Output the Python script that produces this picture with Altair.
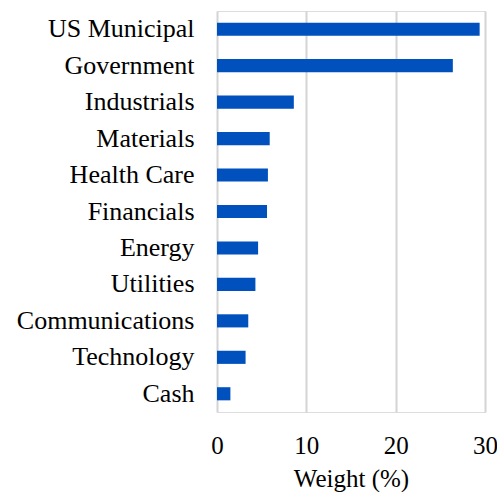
import altair as alt
import pandas as pd

categories = ["US Municipal", "Government", "Industrials", "Materials", "Health Care",
              "Financials", "Energy", "Utilities", "Communications", "Technology", "Cash"]
weights = [29.4, 26.4, 8.6, 5.9, 5.7, 5.6, 4.6, 4.3, 3.5, 3.2, 1.5]

df = pd.DataFrame({"Sector": categories, "Weight": weights})

FONT = "Liberation Serif"

chart = alt.Chart(df).mark_bar(color="#0050be").encode(
    x=alt.X("Weight:Q",
            scale=alt.Scale(domain=[0, 30], nice=False),
            axis=alt.Axis(title="Weight (%)", values=[0, 10, 20, 30], grid=True,
                          gridColor="#d4d4d4", gridWidth=2, domain=False, ticks=False,
                          labelFont=FONT, labelFontSize=25, labelColor="#000000",
                          labelPadding=21, labelFlush=False,
                          titleFont=FONT, titleFontSize=25,
                          titleFontWeight="normal", titleColor="#000000", titlePadding=8)),
    y=alt.Y("Sector:N", sort=categories,
            scale=alt.Scale(paddingInner=0.64, paddingOuter=0.32),
            axis=alt.Axis(title=None, domain=False, ticks=False, grid=False,
                          labelFont=FONT, labelFontSize=26, labelColor="#000000",
                          labelPadding=23, labelLimit=300)),
).properties(
    width=268, height=401,
    autosize=alt.AutoSizeParams(type="none"),
    padding={"left": 217, "top": 11, "right": 12, "bottom": 80},
).configure_view(stroke=None).configure(background="white")

chart.save("out.html", embed_options={"renderer": "svg", "actions": False})
